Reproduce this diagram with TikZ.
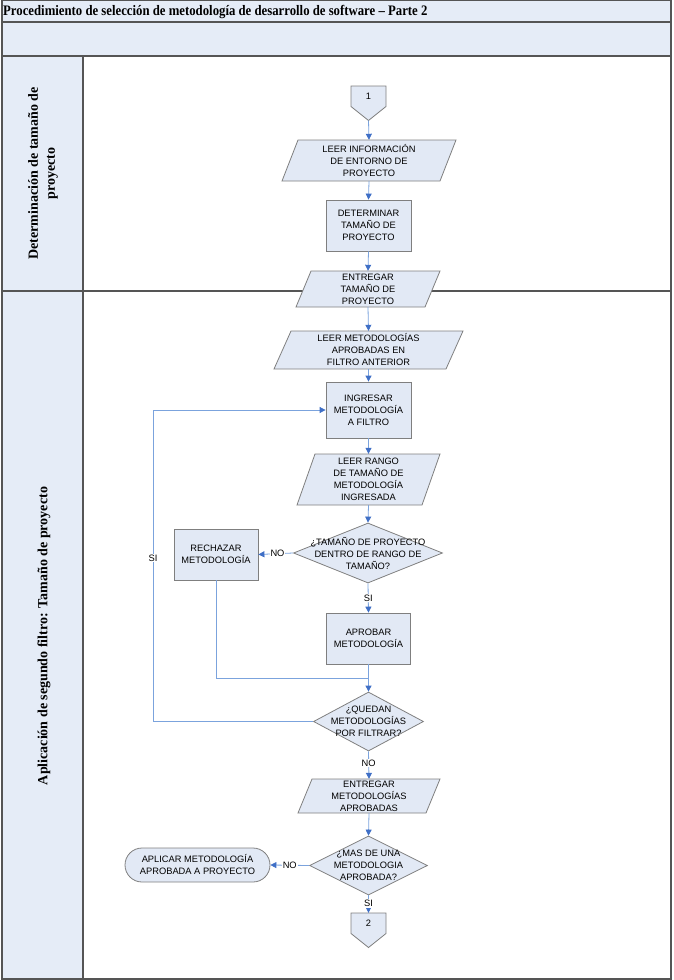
\documentclass[tikz,border=0pt]{standalone}
\usepackage{fontspec}
\setmainfont{Liberation Serif}
\newfontfamily\arialf{Liberation Sans}
\newfontfamily\titlef[FakeStretch=0.88]{Liberation Serif}
\usetikzlibrary{shapes.geometric,arrows.meta,calc}
\definecolor{lanefill}{HTML}{E5ECF7}
\definecolor{boxfill}{HTML}{E2E9F5}
\definecolor{boxline}{HTML}{7F7F7F}
\definecolor{conn}{HTML}{7BA3DD}
\definecolor{tipc}{HTML}{3F6FC6}
\definecolor{framec}{HTML}{555555}
\newcommand\paranode[7]{%
  \filldraw[shp] (#2-#4/2+#6,#3-#5/2) -- (#2+#4/2,#3-#5/2) -- (#2+#4/2-#6,#3+#5/2) -- (#2-#4/2,#3+#5/2) -- cycle;
  \node[txt, minimum width=#4-2*#6, minimum height=#5, inner sep=0pt] (#1) at (#2,#3) {#7};
}
\newcommand\offpage[4]{% name, x, ytop, text
  \filldraw[shp] (#2-17.5,#3) -- (#2+17.5,#3) -- (#2+17.5,#3+20.5) -- (#2,#3+34.5) -- (#2-17.5,#3+20.5) -- cycle;
  \node[txt, minimum width=35pt, minimum height=20.5pt, inner sep=0pt] (#1) at (#2,#3+10.25) {#4};
  \coordinate (#1tip) at (#2,#3+34.5);
}
\begin{document}
\begin{tikzpicture}[x=1pt,y=-1pt,
  txt/.style={font=\arialf\fontsize{9.3}{12}\selectfont, align=center, text=black},
  shp/.style={draw=boxline, fill=boxfill, line width=0.8pt},
  procbox/.style={rectangle, shp, txt, inner sep=0pt},
  decbox/.style={diamond, shp, inner sep=0pt},
  termbox/.style={rectangle, rounded corners=17pt, shp, txt, inner sep=0pt},
  flow/.style={draw=conn, line width=0.8pt, -{Triangle[length=6pt,width=6pt,fill=tipc,color=tipc]}},
  plainflow/.style={draw=conn, line width=0.8pt},
  lbl/.style={txt, fill=white, inner sep=1pt},
  frm/.style={draw=framec, line width=1.2pt},
  lanetxt/.style={font=\bfseries\fontsize{14}{17}\selectfont, align=center, rotate=90}
]
\useasboundingbox (0,0) rectangle (673,980);
% frame and lanes
\filldraw[frm, fill=lanefill] (2,0.6) rectangle (671,22);
\filldraw[frm, fill=lanefill] (2,22) rectangle (671,56);
\draw[frm] (2,56) rectangle (671,979);
\filldraw[frm, fill=lanefill] (2,56) rectangle (83,979);
\draw[frm] (2,291) -- (671,291);
\node[anchor=west, inner sep=0pt, font=\titlef\bfseries\fontsize{14.5}{16}\selectfont] (title) at (3,11.5) {Procedimiento de selección de metodología de desarrollo de software – Parte 2};
\node[lanetxt] (lane1) at (43,173.5) {Determinación de tamaño de\\proyecto};
\node[lanetxt] (lane2) at (44,636) {Aplicación de segundo filtro: Tamaño de proyecto};

% nodes
\offpage{c1}{368.5}{86}{1}
\paranode{p1}{369}{160.5}{174}{41}{16}{LEER INFORMACIÓN\\DE ENTORNO DE\\PROYECTO}
\node[procbox, minimum width=85pt, minimum height=51pt] (r1) at (368.5,225.5) {DETERMINAR\\TAMAÑO DE\\PROYECTO};
\paranode{p2}{368}{289}{144}{36}{15}{ENTREGAR\\TAMAÑO DE\\PROYECTO}
\paranode{p3}{368.5}{350}{189}{38}{17}{LEER METODOLOGÍAS\\APROBADAS EN\\FILTRO ANTERIOR}
\node[procbox, minimum width=85pt, minimum height=56pt] (r2) at (368.5,410) {INGRESAR\\METODOLOGÍA\\A FILTRO};
\paranode{p4}{368.5}{479.5}{143}{51}{18}{LEER RANGO\\DE TAMAÑO DE\\METODOLOGÍA\\INGRESADA}
\node[decbox, minimum width=149pt, minimum height=60pt] (d1) at (368,553) {};
\node[txt] (d1t) at (368,553) {¿TAMAÑO DE PROYECTO\\DENTRO DE RANGO DE\\TAMAÑO?};
\node[procbox, minimum width=84pt, minimum height=51pt] (rech) at (216,554.5) {RECHAZAR\\METODOLOGÍA};
\node[procbox, minimum width=84pt, minimum height=51pt] (apro) at (368.5,638.5) {APROBAR\\METODOLOGÍA};
\node[decbox, minimum width=110pt, minimum height=59pt] (d2) at (368.5,721.5) {};
\node[txt] (d2t) at (368.5,721.5) {¿QUEDAN\\METODOLOGÍAS\\POR FILTRAR?};
\paranode{p5}{369}{796}{142}{34}{14}{ENTREGAR\\METODOLOGÍAS\\APROBADAS}
\node[decbox, minimum width=118pt, minimum height=59pt] (d3) at (368.5,865.5) {};
\node[txt] (d3t) at (368.5,865.5) {¿MAS DE UNA\\METODOLOGIA\\APROBADA?};
\node[termbox, minimum width=145pt, minimum height=34pt] (term) at (197.5,865) {APLICAR METODOLOGÍA\\APROBADA A PROYECTO};
\offpage{c2}{368.5}{913}{2}

% connectors
\draw[flow] (c1tip) -- (p1.north);
\draw[flow] (p1.south) -- (r1.north);
\draw[flow] (r1.south) -- (p2.north);
\draw[flow] (p2.south) -- (p3.north);
\draw[flow] (p3.south) -- (r2.north);
\draw[flow] (r2.south) -- (p4.north);
\draw[flow] (p4.south) -- (d1.north);
\draw[flow] (d1.west) -- node[lbl, pos=0.45] (no1) {NO} (rech.east);
\draw[flow] (d1.south) -- node[lbl, pos=0.5] (si1) {SI} (apro.north);
\coordinate (join) at (apro.south |- 0,678);
\draw[plainflow] (rech.south) |- (join);
\draw[flow] (apro.south) -- (d2.north);
\coordinate (loopc) at (153,721.5);
\draw[flow] (d2.west) -- (loopc) |- (r2.west);
\node[lbl] (si2) at (153,558) {SI};
\draw[flow] (d2.south) -- node[lbl, pos=0.42] (no2) {NO} (p5.north);
\draw[flow] (p5.south) -- (d3.north);
\draw[flow] (d3.west) -- node[lbl, pos=0.5] (no3) {NO} (term.east);
\draw[flow] (d3.south) -- node[lbl, pos=0.45] (si3) {SI} (c2.north);
\end{tikzpicture}
\end{document}
